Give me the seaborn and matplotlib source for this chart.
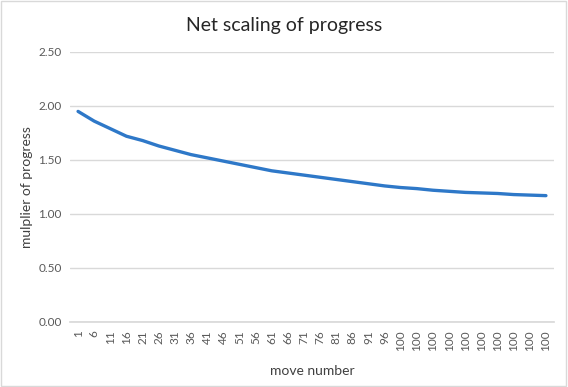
import pandas as pd
import matplotlib.pyplot as plt
import seaborn as sns

# tick labels (every 5th move, capped at 100) and the multiplier read at each
move_labels = ["1", "6", "11", "16", "21", "26", "31", "36", "41", "46",
               "51", "56", "61", "66", "71", "76", "81", "86", "91", "96",
               "100", "100", "100", "100", "100", "100", "100", "100", "100", "100"]
multiplier = [1.95, 1.86, 1.79, 1.72, 1.68, 1.63, 1.59, 1.55, 1.52, 1.49,
              1.46, 1.43, 1.40, 1.38, 1.36, 1.34, 1.32, 1.30, 1.28, 1.26,
              1.245, 1.235, 1.22, 1.21, 1.20, 1.195, 1.19, 1.18, 1.175, 1.17]

df = pd.DataFrame({"pos": range(len(move_labels)), "mult": multiplier})

sns.set_theme(style="white")
plt.rcParams["font.family"] = ["Lato", "DejaVu Sans"]

fig = plt.figure(figsize=(5.68, 3.87), dpi=100)
ax = fig.add_axes([70 / 568, 1 - 322 / 387, (554 - 70) / 568, (322 - 52) / 387])

sns.lineplot(data=df, x="pos", y="mult", ax=ax, color="#2E78C8", linewidth=2.4)

ax.set_xlim(-0.5, len(move_labels) - 0.5)
ax.set_ylim(0, 2.5)
ax.set_yticks([0, 0.5, 1.0, 1.5, 2.0, 2.5])
ax.set_yticklabels([f"{v:.2f}" for v in [0, 0.5, 1.0, 1.5, 2.0, 2.5]])
ax.set_xticks(range(len(move_labels)))
ax.set_xticklabels(move_labels, rotation=90)
ax.tick_params(axis="both", length=0, labelsize=8.5, colors="#595959", pad=6)
ax.yaxis.grid(True, color="#D9D9D9", linewidth=1)
ax.set_axisbelow(True)
for s in ["top", "right", "left"]:
    ax.spines[s].set_visible(False)
ax.spines["bottom"].set_color("#D9D9D9")

ax.set_xlabel("move number", fontsize=10, color="#404040", labelpad=10)
ax.set_ylabel("mulplier of progress", fontsize=10, color="#404040", labelpad=4)
fig.text(0.5, 1 - 25 / 387, "Net scaling of progress", ha="center", va="center",
         fontsize=14, color="#262626")

# light chart border like the spreadsheet frame
fig.patches.append(plt.Rectangle((0.002, 0.003), 0.994, 0.994, transform=fig.transFigure,
                                 fill=False, edgecolor="#D9D9D9", linewidth=1))

plt.savefig("out.png", dpi=100)
plt.close()
